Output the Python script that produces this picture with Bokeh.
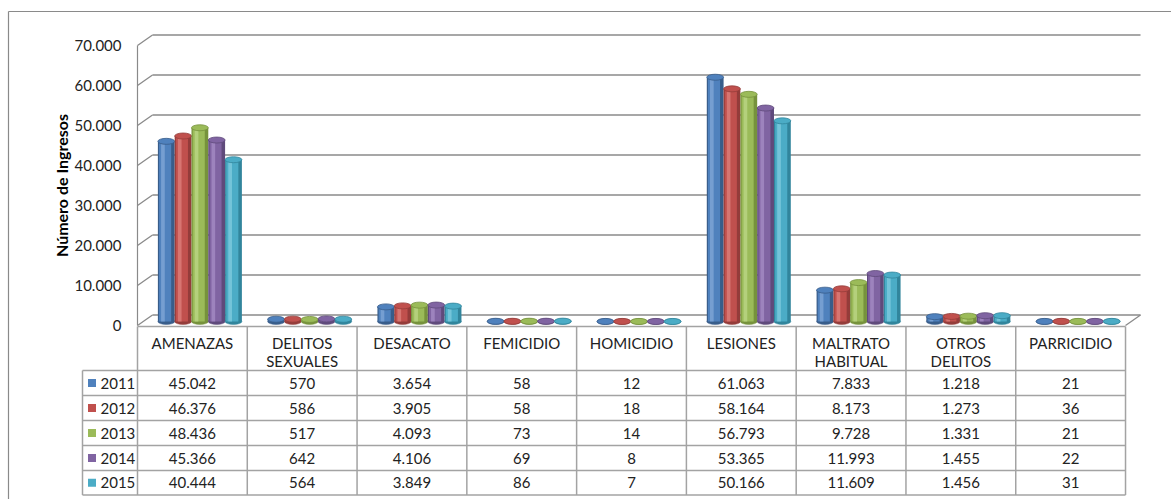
from bokeh.plotting import figure
from bokeh.models import Range1d, FixedTicker, CustomJSTickFormatter
from bokeh.embed import file_html
from bokeh.resources import INLINE
from bokeh.core.properties import value

# ---------------- data ----------------
categories = ["AMENAZAS", "DELITOS SEXUALES", "DESACATO", "FEMICIDIO", "HOMICIDIO",
              "LESIONES", "MALTRATO HABITUAL", "OTROS DELITOS", "PARRICIDIO"]
years = ["2011", "2012", "2013", "2014", "2015"]
v2011 = [45042, 570, 3654, 58, 12, 61063, 7833, 1218, 21]
v2012 = [46376, 586, 3905, 58, 18, 58164, 8173, 1273, 36]
v2013 = [48436, 517, 4093, 73, 14, 56793, 9728, 1331, 21]
v2014 = [45366, 642, 4106, 69, 8, 53365, 11993, 1455, 22]
v2015 = [40444, 564, 3849, 86, 7, 50166, 11609, 1456, 31]
y_ticks = [0, 10000, 20000, 30000, 40000, 50000, 60000, 70000]
y_title = "Número de Ingresos"

series = [v2011, v2012, v2013, v2014, v2015]
main_c = ["#4F81BD", "#C0504D", "#9BBB59", "#8064A2", "#4BACC6"]
dark_c = ["#385D8A", "#943C3A", "#76923C", "#5F4A7B", "#31859C"]
light_c = ["#7EA5D6", "#DC7E7B", "#BAD685", "#A48BC4", "#7ECBDD"]

# ---------------- geometry (page px) ----------------
W, H = 1171, 499
PAGE = 0
AX_X = 137.0       # front value axis
CAT_W = 109.78     # width of one category column
ZERO_Y = 325.0     # front zero line
UPP = 250.0        # value units per pixel
DX = 15.0 / CAT_W  # 3D depth offset
DY = 10.5 * UPP
BW = 16.8 / CAT_W  # cylinder width
BASE = 4 * UPP     # cylinder base (mid depth)

x_start = -(AX_X - PAGE) / CAT_W
x_end = x_start + W / CAT_W
y_end = (ZERO_Y - PAGE) * UPP
y_start = y_end - H * UPP


def X(px):
    return (px - AX_X) / CAT_W


def Y(py):
    return (ZERO_Y - py) * UPP


n = len(categories)
FONT = "Lato"
TXT = "#222222"
GRID = "#8a8a8a"
TABLE = "#a3a3a3"

p = figure(width=W, height=H, x_range=Range1d(x_start, x_end), y_range=Range1d(y_start, y_end),
           output_backend="svg", toolbar_location=None, min_border=0, x_axis_location=None)
p.xgrid.visible = False
p.ygrid.visible = False
p.outline_line_color = None
p.background_fill_color = "white"
p.border_fill_color = "white"

yax = p.yaxis[0]
yax.fixed_location = 0
yax.bounds = (0, 70000)
yax.ticker = FixedTicker(ticks=y_ticks)
yax.formatter = CustomJSTickFormatter(
    code="return tick.toFixed(0).replace(/\\B(?=(\\d{3})+(?!\\d))/g, '.');")
yax.major_tick_line_color = None
yax.minor_tick_line_color = None
yax.axis_line_color = GRID
yax.axis_line_width = 1.2
yax.major_label_standoff = 10
yax.major_label_text_font = FONT
yax.major_label_text_font_size = "15px"
yax.major_label_text_color = TXT
yax.axis_label = y_title
yax.axis_label_text_font = FONT
yax.axis_label_text_font_style = "bold"
yax.axis_label_text_font_size = "16px"
yax.axis_label_text_color = "#000000"
yax.axis_label_standoff = 0

# outer chart border (top and left)
p.line([X(8), x_end], [Y(11), Y(11)], line_color=GRID, line_width=1.2)
p.line([X(8), X(8)], [Y(11), y_start], line_color=GRID, line_width=1.2)

# back wall gridlines + slanted tick lines
p.segment(x0=[DX] * len(y_ticks), y0=[t + DY for t in y_ticks],
          x1=[n + DX] * len(y_ticks), y1=[t + DY for t in y_ticks],
          line_color=GRID, line_width=1.3)
p.segment(x0=[0] * len(y_ticks), y0=y_ticks,
          x1=[DX] * len(y_ticks), y1=[t + DY for t in y_ticks],
          line_color=GRID, line_width=1.3)
# floor right edge
p.segment(x0=[n + DX], y0=[DY], x1=[n], y1=[0], line_color=GRID, line_width=1.3)

# cylinders
for j, vals in enumerate(series):
    xs = [i + 0.5 + (j - 2) * BW + DX / 2 for i in range(n)]
    tops = [BASE + v for v in vals]
    bases = [BASE] * n
    p.ellipse(x=xs, y=bases, width=BW, height=6, width_units="data", height_units="screen",
              fill_color=dark_c[j], line_color=dark_c[j], line_width=0.5)
    p.vbar(x=xs, bottom=bases, top=tops, width=BW, fill_color=dark_c[j], line_color=None)
    p.vbar(x=[x - 0.07 * BW for x in xs], bottom=bases, top=tops, width=0.72 * BW,
           fill_color=main_c[j], line_color=None)
    p.vbar(x=[x - 0.2 * BW for x in xs], bottom=bases, top=tops, width=0.22 * BW,
           fill_color=light_c[j], line_color=None, fill_alpha=0.8)
    p.ellipse(x=xs, y=tops, width=BW, height=6, width_units="data", height_units="screen",
              fill_color=main_c[j], line_color=dark_c[j], line_width=0.8)

# data table
row_lines = [370, 395, 420, 445, 470, 494.5]
p.segment(x0=[0], y0=[Y(326)], x1=[n], y1=[Y(326)], line_color=TABLE, line_width=1.5)
p.segment(x0=[X(82)] * len(row_lines), y0=[Y(r) for r in row_lines],
          x1=[n] * len(row_lines), y1=[Y(r) for r in row_lines],
          line_color=TABLE, line_width=1.5)
p.segment(x0=list(range(n + 1)), y0=[Y(326)] * (n + 1),
          x1=list(range(n + 1)), y1=[Y(row_lines[-1])] * (n + 1),
          line_color=TABLE, line_width=1.5)
p.segment(x0=[X(82)], y0=[Y(row_lines[0])], x1=[X(82)], y1=[Y(row_lines[-1])],
          line_color=TABLE, line_width=1.5)

# header labels
header = [c.replace(" ", "\n") for c in categories]
p.text(x=[i + 0.5 for i in range(n)], y=[Y(333)] * n, text=header,
       text_align="center", text_baseline="top", text_font=value(FONT),
       text_font_size="15px", text_color=TXT, text_line_height=1.05)

# values
for j, vals in enumerate(series):
    yc = Y((row_lines[j] + row_lines[j + 1]) / 2)
    p.text(x=[i + 0.5 for i in range(n)], y=[yc] * n,
           text=[f"{v:,}".replace(",", ".") for v in vals],
           text_align="center", text_baseline="middle", text_font=value(FONT),
           text_font_size="15px", text_color=TXT)

# legend keys in table
rows_c = [Y((row_lines[j] + row_lines[j + 1]) / 2) for j in range(len(years))]
p.scatter(x=[X(91.5)] * len(years), y=rows_c, marker="square", size=8,
          fill_color=main_c, line_color=None)
p.text(x=[X(100)] * len(years), y=rows_c, text=years, text_align="left",
       text_baseline="middle", text_font=value(FONT), text_font_size="15px", text_color=TXT)

open("out.html", "w").write(file_html(p, INLINE))
